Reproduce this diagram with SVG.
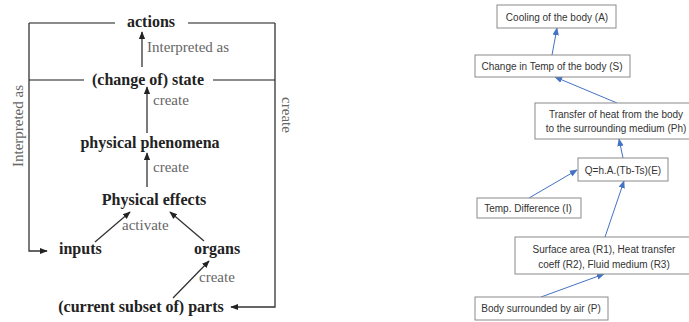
<svg xmlns="http://www.w3.org/2000/svg" width="689" height="322" viewBox="0 0 689 322">
<defs>
<style>
.n{font-family:"Liberation Serif","Times New Roman",serif;font-weight:bold;font-size:16px;fill:#222}
.l{font-family:"Liberation Serif","Times New Roman",serif;font-size:15px;fill:#666}
.fr{fill:none;stroke:#666;stroke-width:1.5}
.ar{fill:none;stroke:#333;stroke-width:1.3;marker-end:url(#ah)}
.b{fill:#fff;stroke:#8a8a8a;stroke-width:1}
.t{font-family:"Liberation Sans",Arial,sans-serif;font-size:10px;fill:#333;text-anchor:middle}
.bl{fill:none;stroke:#4472C4;stroke-width:1;marker-end:url(#bh)}
</style>
<marker id="ah" viewBox="0 0 10 10" refX="9" refY="5" markerWidth="6" markerHeight="6" markerUnits="strokeWidth" orient="auto">
<path d="M0,1 L10,5 L0,9 Z" fill="#222"/>
</marker>
<marker id="bh" viewBox="0 0 10 10" refX="9" refY="5" markerWidth="8" markerHeight="8" markerUnits="strokeWidth" orient="auto">
<path d="M0,1 L10,5 L0,9 Z" fill="#4472C4"/>
</marker>
</defs>
<rect width="689" height="322" fill="#fff"/>

<g id="connectors">
<path class="fr" d="M29,23 H115 M188,23 H275 M29,80 H84 M213,80 H275"/>
<path class="ar" d="M29,23 V251 H47"/>
<path class="ar" d="M275,23 V307 H231"/>
<line class="ar" x1="142" y1="67" x2="142" y2="32"/>
<line class="ar" x1="147" y1="133" x2="147" y2="87"/>
<line class="ar" x1="147" y1="187" x2="147" y2="153"/>
<line class="ar" x1="95" y1="242" x2="130" y2="212"/>
<line class="ar" x1="204" y1="241" x2="170" y2="212"/>
<line class="ar" x1="173" y1="298" x2="209" y2="261"/>
<line class="bl" x1="552" y1="55" x2="557" y2="28"/>
<line class="bl" x1="617" y1="103" x2="555" y2="77"/>
<line class="bl" x1="623" y1="158" x2="619" y2="139"/>
<line class="bl" x1="529" y1="198" x2="577" y2="170"/>
<line class="bl" x1="605" y1="237" x2="624" y2="181"/>
<line class="bl" x1="541" y1="297" x2="604" y2="274"/>
</g>

<g id="labels">
<text class="l" x="147" y="52">Interpreted as</text>
<text class="l" x="153" y="105">create</text>
<text class="l" x="153" y="172">create</text>
<text class="l" x="122" y="230">activate</text>
<text class="l" x="199" y="282">create</text>
<text class="l" text-anchor="middle" transform="translate(23,126) rotate(-90)">Interpreted as</text>
<text class="l" text-anchor="middle" transform="translate(282,115) rotate(90)">create</text>
</g>

<g id="actions"><text class="n" x="151" y="27" text-anchor="middle">actions</text></g>
<g id="state"><text class="n" x="148" y="85" text-anchor="middle">(change of) state</text></g>
<g id="phenomena"><text class="n" x="150" y="148" text-anchor="middle">physical phenomena</text></g>
<g id="effects"><text class="n" x="154" y="205" text-anchor="middle">Physical effects</text></g>
<g id="inputs"><text class="n" x="59" y="254">inputs</text></g>
<g id="organs"><text class="n" x="194" y="254">organs</text></g>
<g id="parts"><text class="n" x="141" y="312" text-anchor="middle">(current subset of) parts</text></g>

<g id="A"><rect class="b" x="497" y="5" width="119" height="23"/><text class="t" x="557" y="20.5">Cooling of the body (A)</text></g>
<g id="S"><rect class="b" x="475" y="55" width="155" height="22"/><text class="t" x="552" y="69.5">Change in Temp of the body (S)</text></g>
<g id="Ph"><rect class="b" x="535" y="103" width="162" height="36"/><text class="t" x="616" y="117.5">Transfer of heat from the body</text><text class="t" x="616" y="131.5">to the surrounding medium (Ph)</text></g>
<g id="E"><rect class="b" x="578" y="158" width="90" height="23"/><text class="t" x="623" y="173.5">Q=h.A.(Tb-Ts)(E)</text></g>
<g id="I"><rect class="b" x="477" y="198" width="104" height="20"/><text class="t" x="528" y="211.5">Temp. Difference (I)</text></g>
<g id="R"><rect class="b" x="515" y="237" width="180" height="37"/><text class="t" x="604" y="252.5">Surface area (R1), Heat transfer</text><text class="t" x="604" y="267.5">coeff (R2), Fluid medium (R3)</text></g>
<g id="P"><rect class="b" x="475" y="297" width="133" height="23"/><text class="t" x="541" y="311.5">Body surrounded by air (P)</text></g>
</svg>
